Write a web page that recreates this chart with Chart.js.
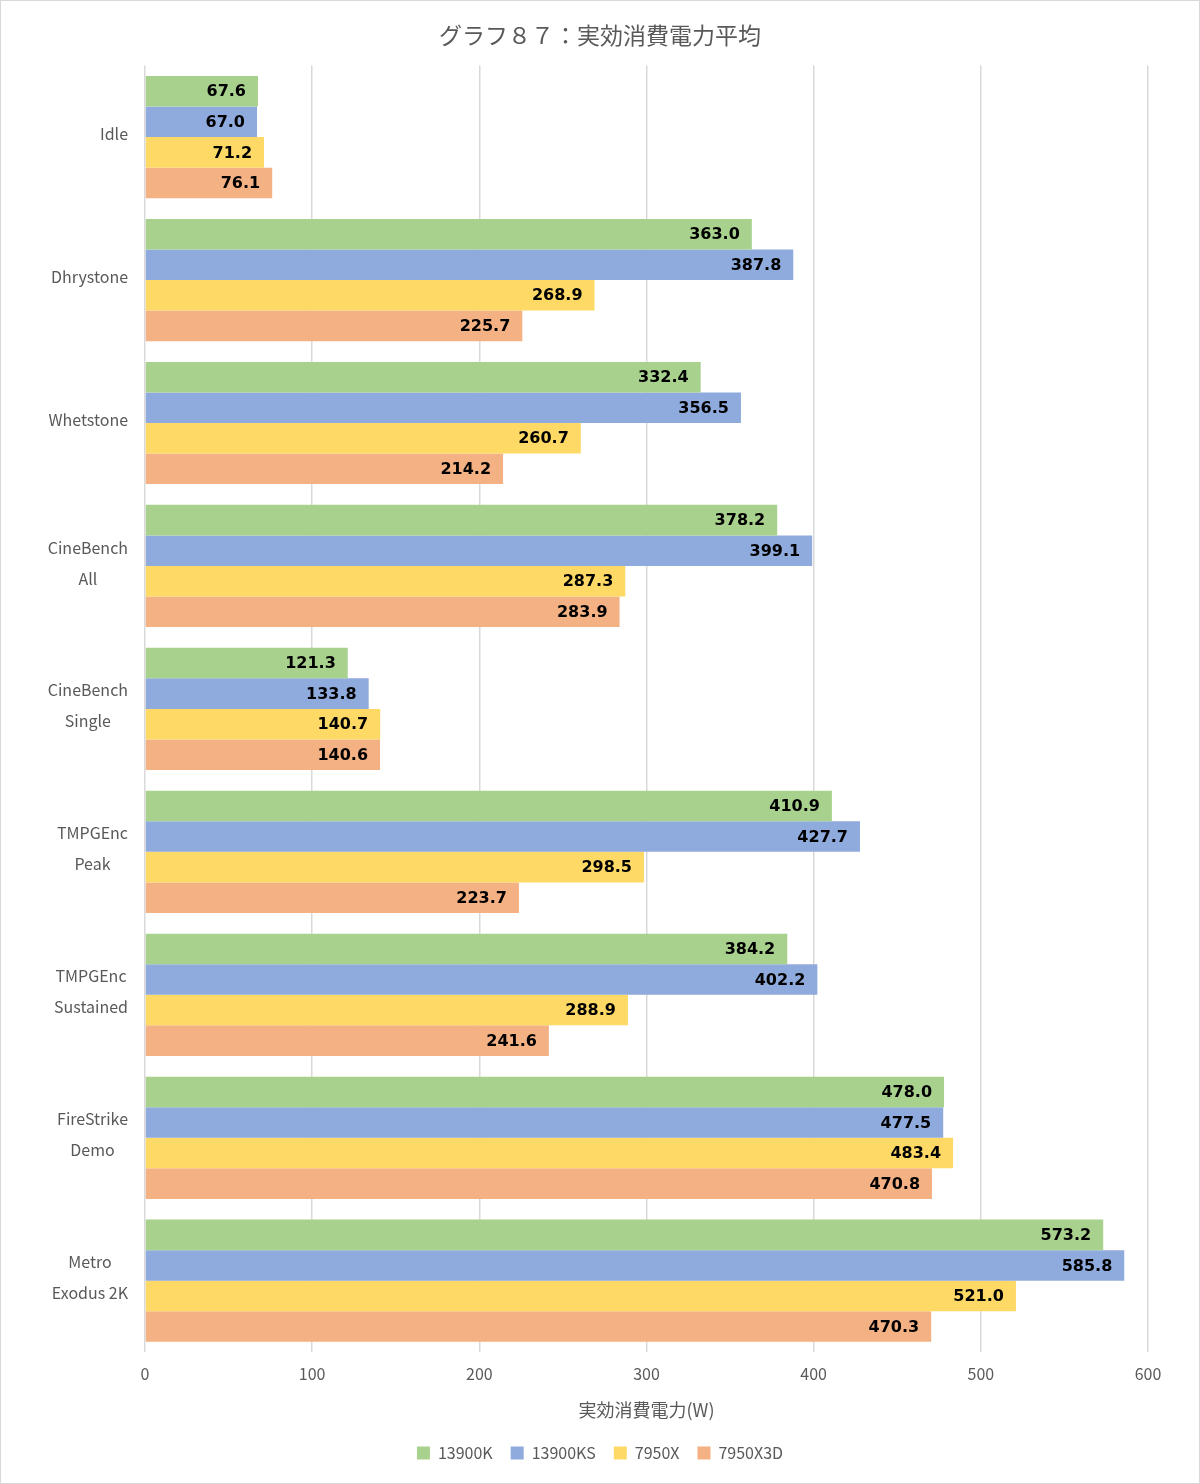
<!DOCTYPE html>
<html>
<head>
<meta charset="utf-8">
<script src="https://cdn.jsdelivr.net/npm/chart.js@4"></script>
<style>
    body { margin: 0; background: #fff; }
    #wrap { width: 1200px; height: 1484px; box-sizing: border-box; border: 1px solid #d9d9d9; }
</style>
</head>
<body>
<div id="wrap"><canvas id="chart"></canvas></div>
<script>
const categories = [
    ['Idle'], ['Dhrystone'], ['Whetstone'], ['CineBench', 'All'], ['CineBench', 'Single'],
    ['TMPGEnc', 'Peak'], ['TMPGEnc', 'Sustained'], ['FireStrike', 'Demo'], ['Metro', 'Exodus 2K']
];
const seriesNames = ['13900K', '13900KS', '7950X', '7950X3D'];
const v13900K  = [67.6, 363.0, 332.4, 378.2, 121.3, 410.9, 384.2, 478.0, 573.2];
const v13900KS = [67.0, 387.8, 356.5, 399.1, 133.8, 427.7, 402.2, 477.5, 585.8];
const v7950X   = [71.2, 268.9, 260.7, 287.3, 140.7, 298.5, 288.9, 483.4, 521.0];
const v7950X3D = [76.1, 225.7, 214.2, 283.9, 140.6, 223.7, 241.6, 470.8, 470.3];
const colors = ['#A9D18E', '#8FAADC', '#FFD966', '#F4B183'];

const font = "'Noto Sans CJK JP', 'Noto Sans', sans-serif";

// values at the end of each bar
const barLabels = {
    id: 'barLabels',
    afterDatasetsDraw(chart) {
        const ctx = chart.ctx;
        ctx.save();
        ctx.font = "bold 16px 'DejaVu Sans', sans-serif";
        ctx.fillStyle = '#000';
        ctx.textAlign = 'right';
        ctx.textBaseline = 'middle';
        chart.data.datasets.forEach((ds, i) => {
            chart.getDatasetMeta(i).data.forEach((el, j) => {
                ctx.fillText(ds.data[j].toFixed(1), el.x - 12, el.y + 1);
            });
        });
        ctx.restore();
    }
};

// category names: lines centred inside a block that is right aligned to the axis
const catLabels = {
    id: 'catLabels',
    afterDraw(chart) {
        const ctx = chart.ctx;
        const ys = chart.scales.y;
        const right = chart.chartArea.left - 17;
        ctx.save();
        ctx.font = '16px ' + font;
        ctx.fillStyle = '#595959';
        ctx.textAlign = 'center';
        ctx.textBaseline = 'middle';
        chart.data.labels.forEach((lines, i) => {
            const y = ys.getPixelForValue(i) - 3;
            const w = Math.max(...lines.map(t => ctx.measureText(t).width));
            lines.forEach((t, k) => {
                ctx.fillText(t, right - w / 2, y + (k - (lines.length - 1) / 2) * 31);
            });
        });
        ctx.restore();
    }
};

const data = [v13900K, v13900KS, v7950X, v7950X3D];

new Chart(document.getElementById('chart'), {
    type: 'bar',
    data: {
        labels: categories,
        datasets: seriesNames.map((name, i) => ({
            label: name,
            data: data[i],
            backgroundColor: colors[i],
            borderWidth: 0,
            barPercentage: 1.0,
            categoryPercentage: 0.855
        }))
    },
    options: {
        indexAxis: 'y',
        responsive: true,
        maintainAspectRatio: false,
        animation: false,
        layout: { padding: { left: 51, right: 51, top: 0, bottom: 12 } },
        scales: {
            x: {
                min: 0, max: 600,
                ticks: { stepSize: 100, color: '#595959', font: { family: font, size: 16 }, padding: 12 },
                grid: { color: '#d9d9d9', lineWidth: 1.5, drawTicks: false },
                border: { display: false },
                title: { display: true, text: '実効消費電力(W)', color: '#595959', font: { family: font, size: 18 }, padding: { top: 4, bottom: 6 } }
            },
            y: {
                ticks: { display: false },
                grid: { display: false, drawTicks: false },
                border: { display: false },
                afterFit(scale) { scale.width = 93; }
            }
        },
        plugins: {
            title: {
                display: true,
                text: 'グラフ８７：実効消費電力平均',
                color: '#595959',
                font: { family: font, size: 23, weight: 'normal' },
                padding: { top: 20, bottom: 17 }
            },
            legend: {
                position: 'bottom',
                labels: { color: '#595959', font: { family: font, size: 16 }, boxWidth: 13, boxHeight: 13, padding: 18 }
            },
            tooltip: { enabled: false }
        }
    },
    plugins: [barLabels, catLabels]
});
</script>
</body>
</html>
